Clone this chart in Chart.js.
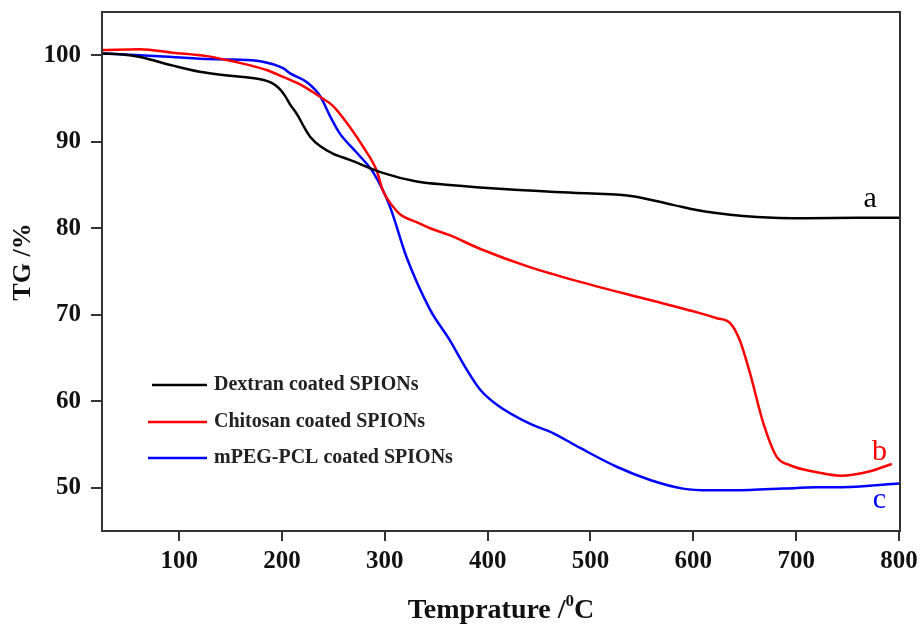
<!DOCTYPE html>
<html>
<head>
<meta charset="utf-8">
<script src="https://cdn.jsdelivr.net/npm/chart.js@4.4.1/dist/chart.umd.min.js"></script>
<style>
  html, body { margin: 0; padding: 0; background: #fff; }
</style>
</head>
<body>
<canvas id="tgChart" width="921" height="628"></canvas>
<script>
// tick values
const xTicks = [100, 200, 300, 400, 500, 600, 700, 800];
const yTicks = [50, 60, 70, 80, 90, 100];

// series names
const seriesNames = ['Dextran coated SPIONs', 'Chitosan coated SPIONs', 'mPEG-PCL coated SPIONs'];
const curveTags = ['a', 'b', 'c'];

// curve a - dextran
const dextranTemp = [25, 45, 62, 94, 120, 152, 169, 180, 190, 197, 203, 208, 215, 222, 228, 237, 250, 266, 298, 331, 363, 419, 483, 541, 580, 613, 662, 710, 760, 801];
const dextranTG = [100.2, 100.1, 99.8, 98.8, 98.1, 97.6, 97.4, 97.2, 96.8, 96.2, 95.3, 94.3, 93.1, 91.6, 90.5, 89.5, 88.6, 87.9, 86.4, 85.4, 85.0, 84.5, 84.1, 83.7, 82.7, 81.9, 81.3, 81.15, 81.2, 81.2];

// curve b - chitosan
const chitosanTemp = [25, 62, 94, 127, 152, 185, 201, 218, 237, 250, 266, 279, 292, 298, 308, 315, 331, 344, 363, 393, 441, 490, 558, 600, 623, 636, 645, 655, 668, 681, 694, 720, 743, 755, 772, 793];
const chitosanTG = [100.6, 100.7, 100.3, 99.9, 99.3, 98.3, 97.5, 96.6, 95.2, 94.1, 91.7, 89.4, 86.7, 84.4, 82.5, 81.6, 80.7, 80.0, 79.2, 77.6, 75.5, 73.8, 71.7, 70.4, 69.6, 69.0, 67.1, 63.3, 57.5, 53.6, 52.6, 51.8, 51.4, 51.5, 51.9, 52.75];

// curve c - mPEG-PCL
const mpegTemp = [25, 62, 94, 120, 152, 179, 201, 208, 224, 237, 247, 256, 273, 289, 305, 321, 344, 363, 380, 393, 409, 441, 464, 490, 526, 558, 590, 616, 655, 687, 720, 752, 800];
const mpegTG = [100.2, 100.0, 99.8, 99.6, 99.5, 99.3, 98.5, 97.9, 96.9, 95.3, 92.9, 91.0, 88.7, 86.4, 82.5, 76.7, 70.6, 67.1, 63.6, 61.3, 59.6, 57.4, 56.3, 54.6, 52.4, 50.9, 49.9, 49.7, 49.75, 49.9, 50.05, 50.1, 50.5];

const serif = '"Liberation Serif", "Times New Roman", serif';
const colors = ['#000000', '#ff0000', '#0000ff'];

function toPoints(xs, ys) {
    return xs.map((x, i) => ({ x: x, y: ys[i] }));
}

// frame, legend, titles and the a/b/c tags
const extras = {
    id: 'extras',
    afterDraw(chart) {
        const ctx = chart.ctx;
        const area = chart.chartArea;
        const xs = chart.scales.x, ys = chart.scales.y;
        ctx.save();

        ctx.strokeStyle = '#333';
        ctx.lineWidth = 2;
        ctx.strokeRect(area.left, area.top, area.right - area.left, area.bottom - area.top);

        // legend
        ctx.font = 'bold 20px ' + serif;
        ctx.textBaseline = 'middle';
        ctx.textAlign = 'left';
        const rows = [373, 410, 446];
        chart.data.datasets.forEach((ds, i) => {
            const y = area.top + rows[i];
            ctx.strokeStyle = ds.borderColor;
            ctx.lineWidth = 2.5;
            ctx.beginPath();
            ctx.moveTo(area.left + (i === 0 ? 50 : 46), y);
            ctx.lineTo(area.left + 105, y);
            ctx.stroke();
            ctx.fillStyle = '#222';
            ctx.fillText(ds.label, area.left + 112, y);
        });

        // a, b, c
        ctx.font = '30px ' + serif;
        ctx.textAlign = 'center';
        ctx.textBaseline = 'alphabetic';
        const tagPos = [[772, 82.5], [781, 53.2], [781, 47.7]];
        curveTags.forEach((t, i) => {
            ctx.fillStyle = colors[i];
            ctx.fillText(t, xs.getPixelForValue(tagPos[i][0]), ys.getPixelForValue(tagPos[i][1]));
        });

        // y title
        ctx.fillStyle = '#111';
        ctx.font = 'bold 26px ' + serif;
        ctx.save();
        ctx.translate(30, 262);
        ctx.rotate(-Math.PI / 2);
        ctx.textAlign = 'center';
        ctx.fillText('TG /%', 0, 0);
        ctx.restore();

        // x title with raised 0
        const big = 'bold 28px ' + serif, small = 'bold 17px ' + serif;
        ctx.textAlign = 'left';
        ctx.font = big;
        const w1 = ctx.measureText('Temprature /').width;
        const w3 = ctx.measureText('C').width;
        ctx.font = small;
        const w2 = ctx.measureText('0').width;
        let x0 = (area.left + area.right) / 2 - (w1 + w2 + w3) / 2;
        const base = 618;
        ctx.font = big;
        ctx.fillText('Temprature /', x0, base);
        ctx.font = small;
        ctx.fillText('0', x0 + w1, base - 12);
        ctx.font = big;
        ctx.fillText('C', x0 + w1 + w2, base);

        ctx.restore();
    }
};

const config = {
    type: 'line',
    data: {
        datasets: [
            { label: seriesNames[0], data: toPoints(dextranTemp, dextranTG), borderColor: colors[0] },
            { label: seriesNames[1], data: toPoints(chitosanTemp, chitosanTG), borderColor: colors[1] },
            { label: seriesNames[2], data: toPoints(mpegTemp, mpegTG), borderColor: colors[2] }
        ]
    },
    options: {
        responsive: false,
        animation: false,
        devicePixelRatio: 1,
        layout: { padding: { top: 12, right: 21, bottom: 0, left: 0 } },
        elements: {
            point: { radius: 0 },
            line: { borderWidth: 2.5, cubicInterpolationMode: 'monotone', fill: false }
        },
        plugins: {
            legend: { display: false },
            tooltip: { enabled: false }
        },
        scales: {
            x: {
                type: 'linear',
                min: 25,
                max: 801,
                afterBuildTicks: (s) => { s.ticks = xTicks.map(v => ({ value: v })); },
                afterFit: (s) => { s.height = 97; s.paddingLeft = 0; s.paddingRight = 0; },
                ticks: { color: '#111', padding: 6, font: { family: serif, size: 25, weight: 'bold' } },
                grid: { drawOnChartArea: false, tickLength: 10, color: '#333', lineWidth: 2 },
                border: { color: '#333', width: 2 }
            },
            y: {
                min: 45,
                max: 105,
                afterBuildTicks: (s) => { s.ticks = yTicks.map(v => ({ value: v })); },
                afterFit: (s) => { s.width = 102; s.paddingTop = 0; s.paddingBottom = 0; },
                ticks: { color: '#111', padding: 10, font: { family: serif, size: 25, weight: 'bold' } },
                grid: { drawOnChartArea: false, tickLength: 11, color: '#333', lineWidth: 2 },
                border: { color: '#333', width: 2 }
            }
        }
    },
    plugins: [extras]
};

const tgChart = new Chart(document.getElementById('tgChart'), config);
</script>
</body>
</html>
